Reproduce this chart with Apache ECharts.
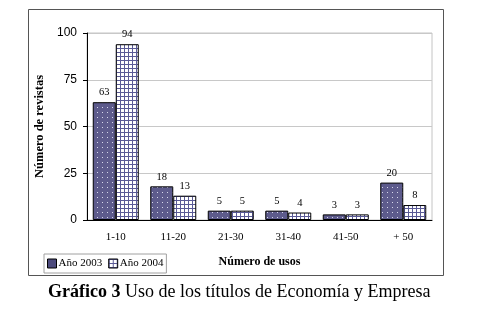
<!DOCTYPE html>
<html>
<head>
<meta charset="utf-8">
<script src="https://cdn.jsdelivr.net/npm/echarts@6/dist/echarts.min.js"></script>
<style>
  html, body { margin: 0; padding: 0; background: #fff; }
  #chart { width: 500px; height: 312px; }
</style>
</head>
<body>
<div id="chart"></div>
<script>
var categories = ['1-10', '11-20', '21-30', '31-40', '41-50', '+ 50'];
var serie2003 = [63, 18, 5, 5, 3, 20];
var serie2004 = [94, 13, 5, 4, 3, 8];
var yTicks = [0, 25, 50, 75, 100];

// patrones de relleno
function dotPattern() {
    var c = document.createElement('canvas');
    c.width = 5; c.height = 5;
    var ctx = c.getContext('2d');
    ctx.fillStyle = '#5d5b8c';
    ctx.fillRect(0, 0, 5, 5);
    ctx.fillStyle = '#d8d8ea';
    ctx.fillRect(2, 2, 1, 1);
    return c;
}
function gridPattern() {
    var c = document.createElement('canvas');
    c.width = 4; c.height = 4;
    var ctx = c.getContext('2d');
    ctx.fillStyle = '#ffffff';
    ctx.fillRect(0, 0, 4, 4);
    ctx.fillStyle = '#5a5a96';
    ctx.fillRect(0, 0, 1, 4);
    ctx.fillRect(0, 0, 4, 1);
    return c;
}
var dots = { image: dotPattern(), repeat: 'repeat' };
var cuadros = { image: gridPattern(), repeat: 'repeat' };

var chart = echarts.init(document.getElementById('chart'));
chart.setOption({
    backgroundColor: '#fff',
    animation: false,
    grid: {
        left: 87, right: 68, top: 33, bottom: 92,
        show: true, borderColor: '#c4c4c4', borderWidth: 1
    },
    legend: {
        left: 44, top: 254,
        icon: 'rect',
        itemWidth: 9, itemHeight: 9, itemGap: 6,
        padding: [4, 3, 4, 3],
        borderColor: '#a0a0a0', borderWidth: 1,
        textStyle: { fontFamily: 'Liberation Serif', fontSize: 11, color: '#000', padding: [0, 0, 0, -3] },
        data: [
            { name: 'Año 2003', itemStyle: { color: '#4d4b7d', borderColor: '#000', borderWidth: 1 } },
            { name: 'Año 2004', itemStyle: { color: cuadros, borderColor: '#000', borderWidth: 1 } }
        ]
    },
    xAxis: {
        type: 'category',
        data: categories,
        name: 'Número de usos',
        nameLocation: 'middle',
        nameGap: 36,
        nameTextStyle: { fontFamily: 'Liberation Serif', fontWeight: 'bold', fontSize: 12, color: '#000' },
        axisLine: { lineStyle: { color: '#000', width: 1 } },
        axisTick: { length: 4, lineStyle: { color: '#000' } },
        axisLabel: { fontFamily: 'Liberation Serif', fontSize: 11, color: '#000', margin: 12 }
    },
    yAxis: {
        type: 'value',
        min: 0, max: 100, interval: 25,
        name: 'Número de revistas',
        nameLocation: 'middle',
        nameGap: 34,
        nameTextStyle: { fontFamily: 'Liberation Serif', fontWeight: 'bold', fontSize: 12.5, color: '#000' },
        axisLine: { show: true, lineStyle: { color: '#000', width: 1 } },
        axisTick: { show: true, length: 4, lineStyle: { color: '#000' } },
        axisLabel: {
            fontFamily: 'Liberation Sans', fontSize: 12, color: '#000', margin: 10,
            formatter: function (v) { return yTicks.indexOf(v) >= 0 ? v : ''; }
        },
        splitLine: { lineStyle: { color: '#c8c8c8', width: 1 } }
    },
    series: [{
        name: 'Año 2003',
        type: 'bar',
        data: serie2003,
        barGap: '0%',
        barCategoryGap: '20%',
        itemStyle: { color: dots, borderColor: '#000', borderWidth: 1 },
        label: { show: true, position: 'top', distance: 4, fontFamily: 'Liberation Serif', fontSize: 10.5, color: '#000' }
    }, {
        name: 'Año 2004',
        type: 'bar',
        data: serie2004,
        itemStyle: { color: cuadros, borderColor: '#000', borderWidth: 1 },
        label: { show: true, position: 'top', distance: 4, fontFamily: 'Liberation Serif', fontSize: 10.5, color: '#000' }
    }],
    graphic: [{
        type: 'rect',
        shape: { x: 28.5, y: 9.5, width: 415, height: 266 },
        style: { fill: null, stroke: '#555', lineWidth: 1 },
        silent: true
    }, {
        type: 'text',
        left: 48,
        top: 283,
        style: {
            text: '{b|Gráfico 3} Uso de los títulos de Economía y Empresa',
            fontFamily: 'Liberation Serif', fontSize: 18, fill: '#000',
            rich: { b: { fontFamily: 'Liberation Serif', fontSize: 18, fontWeight: 'bold', fill: '#000' } }
        }
    }]
});
</script>
</body>
</html>
